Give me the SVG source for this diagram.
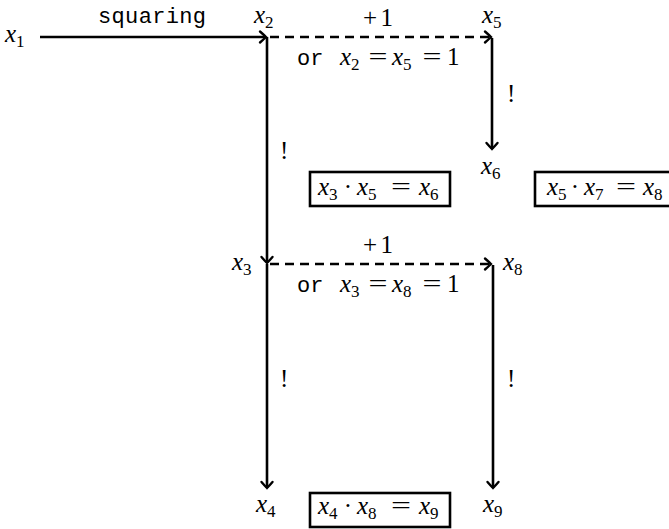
<svg xmlns="http://www.w3.org/2000/svg" width="669" height="529" viewBox="0 0 669 529">
<style>
.m{font-family:"Liberation Serif",serif;font-style:italic;font-size:25px;fill:#000}
.s{font-style:normal;font-size:17px}
.r{font-family:"Liberation Serif",serif;font-size:25px;fill:#000}
.eq{font-family:"Liberation Serif",serif;font-size:25px;fill:#000;text-anchor:middle}
.tt{font-family:"Liberation Mono",monospace;font-size:22px;fill:#000}
.ln{stroke:#000;stroke-width:2.6;fill:none}
.d{stroke-dasharray:9 6}
.box{fill:#fff;stroke:#000;stroke-width:2.6}
</style>
<defs>
<marker id="ah" markerUnits="userSpaceOnUse" markerWidth="16" markerHeight="16" refX="8" refY="8" orient="auto">
<path d="M2 2.5 Q6 6 8 8 Q6 10 2 13.5" fill="none" stroke="#000" stroke-width="2.4" stroke-linecap="round"/>
</marker>
</defs>
<g id="connectors">
<line class="ln" x1="40" y1="37" x2="266" y2="37" marker-end="url(#ah)"/>
<line class="ln d" x1="270" y1="37" x2="491" y2="37" marker-end="url(#ah)"/>
<line class="ln" x1="492" y1="38" x2="492" y2="149" marker-end="url(#ah)"/>
<line class="ln" x1="267" y1="37" x2="267" y2="263" marker-end="url(#ah)"/>
<line class="ln d" x1="270" y1="264" x2="491" y2="264" marker-end="url(#ah)"/>
<line class="ln" x1="267" y1="264" x2="267" y2="488" marker-end="url(#ah)"/>
<line class="ln" x1="493" y1="265" x2="493" y2="488" marker-end="url(#ah)"/>
<text class="tt" x="98" y="23" textLength="108">squaring</text>
<text class="r" x="363" y="26" textLength="30">+1</text>
<text class="tt" x="297" y="65">or</text>
<text class="m" x="340" y="65">x<tspan class="s" dy="5">2</tspan></text>
<text class="eq" x="378" y="65" textLength="19" lengthAdjust="spacingAndGlyphs">=</text>
<text class="m" x="392" y="65">x<tspan class="s" dy="5">5</tspan></text>
<text class="eq" x="432" y="65" textLength="19" lengthAdjust="spacingAndGlyphs">=</text>
<text class="r" x="447" y="65">1</text>
<text class="r" x="280" y="159">!</text>
<text class="r" x="507" y="102">!</text>
<text class="r" x="363" y="253" textLength="30">+1</text>
<text class="tt" x="297" y="292">or</text>
<text class="m" x="340" y="292">x<tspan class="s" dy="5">3</tspan></text>
<text class="eq" x="378" y="292" textLength="19" lengthAdjust="spacingAndGlyphs">=</text>
<text class="m" x="392" y="292">x<tspan class="s" dy="5">8</tspan></text>
<text class="eq" x="432" y="292" textLength="19" lengthAdjust="spacingAndGlyphs">=</text>
<text class="r" x="447" y="292">1</text>
<text class="r" x="280" y="387">!</text>
<text class="r" x="507" y="387">!</text>
</g>
<g id="x1"><text class="m" x="5" y="42">x<tspan class="s" dy="5">1</tspan></text></g>
<g id="x2"><text class="m" x="254" y="23">x<tspan class="s" dy="5">2</tspan></text></g>
<g id="x5"><text class="m" x="482" y="23">x<tspan class="s" dy="5">5</tspan></text></g>
<g id="x6"><text class="m" x="481" y="174">x<tspan class="s" dy="5">6</tspan></text></g>
<g id="x3"><text class="m" x="232" y="270">x<tspan class="s" dy="5">3</tspan></text></g>
<g id="x8"><text class="m" x="503" y="270">x<tspan class="s" dy="5">8</tspan></text></g>
<g id="x4"><text class="m" x="256" y="512">x<tspan class="s" dy="5">4</tspan></text></g>
<g id="x9"><text class="m" x="483" y="512">x<tspan class="s" dy="5">9</tspan></text></g>
<g id="eq1">
<rect class="box" x="310" y="172" width="140" height="34"/>
<text class="m" x="318" y="195">x<tspan class="s" dy="5">3</tspan></text>
<text class="r" x="348" y="195" text-anchor="middle">·</text>
<text class="m" x="357" y="195">x<tspan class="s" dy="5">5</tspan></text>
<text class="eq" x="401" y="195" textLength="20" lengthAdjust="spacingAndGlyphs">=</text>
<text class="m" x="419" y="195">x<tspan class="s" dy="5">6</tspan></text>
</g>
<g id="eq2">
<rect class="box" x="535" y="172" width="140" height="34"/>
<text class="m" x="547" y="195">x<tspan class="s" dy="5">5</tspan></text>
<text class="r" x="575" y="195" text-anchor="middle">·</text>
<text class="m" x="584" y="195">x<tspan class="s" dy="5">7</tspan></text>
<text class="eq" x="626" y="195" textLength="20" lengthAdjust="spacingAndGlyphs">=</text>
<text class="m" x="643" y="195">x<tspan class="s" dy="5">8</tspan></text>
</g>
<g id="eq3">
<rect class="box" x="310" y="493" width="140" height="34"/>
<text class="m" x="318" y="514">x<tspan class="s" dy="5">4</tspan></text>
<text class="r" x="348" y="514" text-anchor="middle">·</text>
<text class="m" x="357" y="514">x<tspan class="s" dy="5">8</tspan></text>
<text class="eq" x="401" y="514" textLength="20" lengthAdjust="spacingAndGlyphs">=</text>
<text class="m" x="419" y="514">x<tspan class="s" dy="5">9</tspan></text>
</g>
</svg>
